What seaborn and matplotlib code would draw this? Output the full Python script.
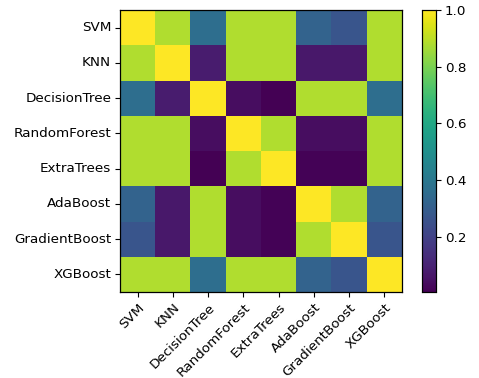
import matplotlib
matplotlib.use("Agg")
import matplotlib.pyplot as plt
import seaborn as sns
import pandas as pd

models = ["SVM", "KNN", "DecisionTree", "RandomForest", "ExtraTrees",
          "AdaBoost", "GradientBoost", "XGBoost"]

# similarity matrix, one row per model
svm = [1.00, 0.88, 0.36, 0.88, 0.88, 0.32, 0.27, 0.88]
knn = [0.88, 1.00, 0.08, 0.88, 0.88, 0.07, 0.07, 0.88]
dtree = [0.36, 0.08, 1.00, 0.04, 0.006, 0.88, 0.88, 0.36]
rforest = [0.88, 0.88, 0.04, 1.00, 0.88, 0.04, 0.04, 0.88]
etrees = [0.88, 0.88, 0.006, 0.88, 1.00, 0.01, 0.01, 0.88]
ada = [0.32, 0.07, 0.88, 0.04, 0.01, 1.00, 0.88, 0.32]
gboost = [0.27, 0.07, 0.88, 0.04, 0.01, 0.88, 1.00, 0.27]
xgb = [0.88, 0.88, 0.36, 0.88, 0.88, 0.32, 0.27, 1.00]

corr = pd.DataFrame([svm, knn, dtree, rforest, etrees, ada, gboost, xgb],
                    index=models, columns=models)

fig = plt.figure(figsize=(4.79, 3.78), dpi=100)
ax = fig.add_axes([0.2505, 0.2275, 0.5887, 0.746])
cax = fig.add_axes([0.881, 0.2275, 0.0292, 0.746])

sns.heatmap(corr, cmap="viridis", ax=ax, cbar_ax=cax, linewidths=0)

for side in ["top", "right", "left", "bottom"]:
    ax.spines[side].set_visible(True)
    ax.spines[side].set_color("black")
    ax.spines[side].set_linewidth(0.9)

ax.tick_params(axis="both", length=3.3, width=0.8, pad=3.0, labelsize=9.7)
ax.set_yticklabels(models, rotation=0)
ax.set_xticklabels(models, rotation=45, ha="right", rotation_mode="anchor")

cax.set_yticks([0.2, 0.4, 0.6, 0.8, 1.0])
cax.set_yticklabels(["0.2", "0.4", "0.6", "0.8", "1.0"])
cax.tick_params(labelsize=9.7, length=3.3, width=0.8, pad=3.0)
for side in cax.spines:
    cax.spines[side].set_visible(True)
    cax.spines[side].set_linewidth(0.8)

plt.savefig("out.png", dpi=100)
plt.close()
